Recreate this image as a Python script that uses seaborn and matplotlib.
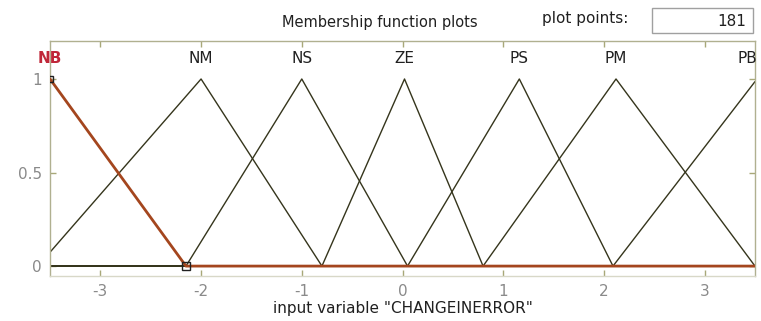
import numpy as np
import pandas as pd
import matplotlib
matplotlib.use("Agg")
import matplotlib.pyplot as plt
from matplotlib.patches import Rectangle
import seaborn as sns

# Triangular membership functions for input "CHANGEINERROR": (a, b, c) feet/peak
mf_names = ["NB", "NM", "NS", "ZE", "PS", "PM", "PB"]
mf_a = [-4.85, -3.62, -2.15, -0.80, 0.05, 0.80, 2.09]
mf_b = [-3.50, -2.00, -1.00, 0.02, 1.16, 2.12, 3.52]
mf_c = [-2.15, -0.80, 0.05, 0.80, 2.09, 3.50, 4.90]
x_range = [-3.5, 3.5]
plot_points = 181
x_ticks = [-3, -2, -1, 0, 1, 2, 3]
y_ticks = [0, 0.5, 1]

sns.set_theme(style="white")
plt.rcParams["font.family"] = ["DejaVu Sans"]

fig = plt.figure(figsize=(7.61, 3.21), dpi=100)
ax = fig.add_axes([50 / 761, 1 - 276 / 321, 705 / 761, 235 / 321])

# evaluation grid, with the triangle vertices included so peaks stay sharp
xs = np.linspace(x_range[0], x_range[1], plot_points)
verts = [v for v in mf_a + mf_b + mf_c if x_range[0] <= v <= x_range[1]]
xs = np.unique(np.concatenate([xs, verts]))


def trimf(x, a, b, c):
    left = (x - a) / (b - a)
    right = (c - x) / (c - b)
    return np.clip(np.minimum(left, right), 0, 1)


rows = []
for name, a, b, c in zip(mf_names, mf_a, mf_b, mf_c):
    for xv, yv in zip(xs, trimf(xs, a, b, c)):
        rows.append({"x": xv, "mu": yv, "mf": name})
df = pd.DataFrame(rows)

line_dark = "#35351c"
sel_color = "#a4461e"

# unselected functions first, selected (NB) drawn on top
for name in mf_names[1:]:
    sub = df[df["mf"] == name]
    sns.lineplot(data=sub, x="x", y="mu", ax=ax, color=line_dark, lw=1.0,
                 estimator=None, sort=False)
sub = df[df["mf"] == "NB"]
sns.lineplot(data=sub, x="x", y="mu", ax=ax, color=sel_color, lw=2.0,
             estimator=None, sort=False, zorder=5)

# vertex handles of the selected function
ax.plot([mf_c[0]], [0], marker="s", ms=6, mfc="none", mec="#202020", mew=1.0,
        zorder=6, clip_on=False)
ax.plot([mf_b[0]], [1], marker="s", ms=5, mfc="none", mec="#202020", mew=1.0,
        zorder=6)

# function names above the peaks
for name, b in zip(mf_names, mf_b):
    px = min(max(b, x_range[0]), 3.42)
    color = "#c0283a" if name == "NB" else "#202020"
    ax.text(px, 1.107, name, ha="center", va="center", fontsize=11,
            color=color, fontweight="bold" if name == "NB" else "normal",
            clip_on=False)

ax.set_xlim(x_range)
ax.set_ylim(-0.053, 1.203)
ax.set_xticks(x_ticks)
ax.set_xticklabels([str(t) for t in x_ticks])
ax.set_yticks(y_ticks)
ax.set_yticklabels(["0", "0.5", "1"])
ax.tick_params(axis="both", direction="in", length=4, width=1.0,
               color="#a8a878", labelcolor="#8a8a8a", labelsize=11,
               top=True, right=True, bottom=True, left=True, pad=6)
ax.set_xlabel('input variable "CHANGEINERROR"', fontsize=11,
              color="#202020", labelpad=1)
ax.set_ylabel("")
for side, sp in ax.spines.items():
    sp.set_visible(True)
    sp.set_color("#b0b090")
    sp.set_linewidth(1.0)
ax.spines["bottom"].set_color("#d8d8c8")
ax.grid(False)

# header
fig.text(282 / 761, 1 - 22 / 321, "Membership function plots", ha="left",
         va="center", fontsize=10.5, color="#202020")
fig.text(542 / 761, 1 - 18 / 321, "plot points:", ha="left", va="center",
         fontsize=11, color="#202020")
fig.patches.append(Rectangle((652 / 761, 1 - 33 / 321), 101 / 761, 25 / 321,
                             transform=fig.transFigure, facecolor="white",
                             edgecolor="#a0a0a0", lw=1.0))
fig.text(746 / 761, 1 - 21 / 321, "181", ha="right", va="center",
         fontsize=11, color="#202020")

fig.savefig("out.png", dpi=100, facecolor="white")
